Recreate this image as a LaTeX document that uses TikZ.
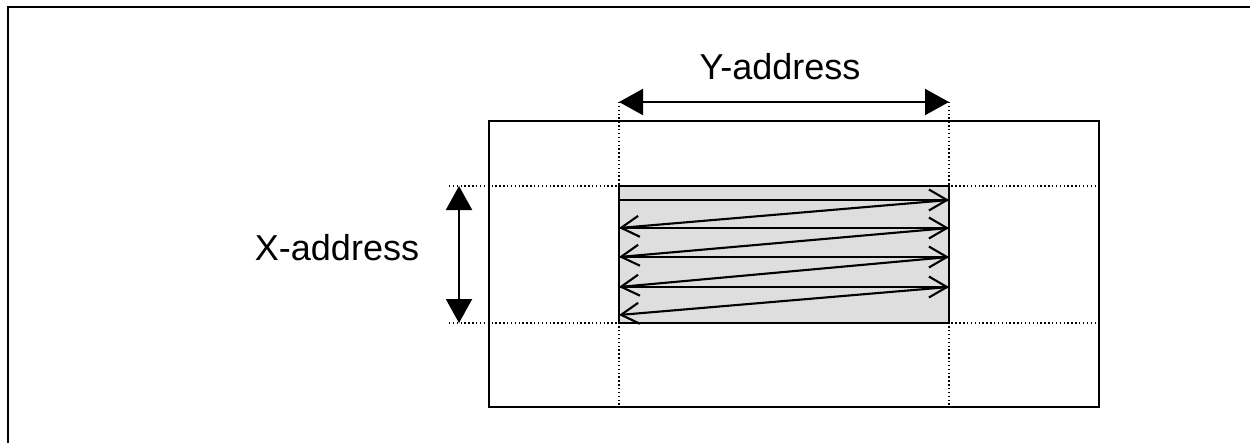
\documentclass[tikz,border=0pt]{standalone}
\usepackage{fontspec}
\setmainfont{Liberation Sans}
\usetikzlibrary{arrows.meta,positioning}
\definecolor{shadecol}{RGB}{222,222,222}

\begin{document}
\begin{tikzpicture}[x=0.02cm,y=-0.02cm,
   frame/.style={line width=1.3pt},
   box/.style={line width=1.2pt},
   guide/.style={line width=1.0pt,dash pattern=on 0.8pt off 1.4pt},
   dimarrow/.style={line width=1.2pt,
     {Triangle[length=0.48cm,width=0.52cm]}-{Triangle[length=0.48cm,width=0.52cm]}},
   scan/.style={line width=1.2pt,-{Straight Barb[length=0.36cm,width=0.42cm]}},
   lbl/.style={font=\fontsize{20.5}{24}\selectfont,inner sep=0pt}]
  \useasboundingbox (0,0) rectangle (1250,443);
  % ---------- outer frame (top and left only) ----------
  \draw[frame] (8,443) -- (8,7) -- (1250,7);
  % ---------- memory and selected window ----------
  \coordinate (mtl) at (489,121);
  \coordinate (mbr) at (1099,407);
  \coordinate (wtl) at (619,186);
  \coordinate (wbr) at (949,323);
  \fill[shadecol] (wtl) rectangle (wbr);
  % dotted guides
  \draw[guide] (619,102) -- (619,407);
  \draw[guide] (949,102) -- (949,407);
  \draw[guide] (449,186) -- (1099,186);
  \draw[guide] (449,323) -- (1099,323);
  \draw[box] (mtl) rectangle (mbr);
  \draw[box] (wtl) rectangle (wbr);
  % ---------- scan path ----------
  \foreach \ya/\yb in {200/228,228/257,257/287,287/315}{
    \draw[scan] (619,\ya) -- (949,\ya);
    \draw[scan] (949,\ya) -- (619,\yb);
  }
  % ---------- address ranges ----------
  \coordinate (ya) at (619,102);
  \coordinate (yb) at (949,102);
  \coordinate (xa) at (459,186);
  \coordinate (xb) at (459,323);
  \draw[dimarrow] (ya) -- (yb);
  \draw[dimarrow] (xa) -- (xb);
  \node[lbl] (ylbl) at (780,67) {Y-address};
  \node[lbl] (xlbl) at (337,248) {X-address};
\end{tikzpicture}
\end{document}
